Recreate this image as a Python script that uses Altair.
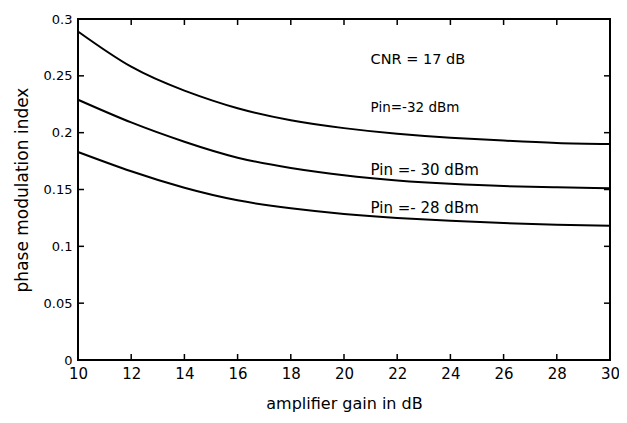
import altair as alt
import pandas as pd

gain = [10, 12, 14, 16, 18, 20, 22, 24, 26, 28, 30]
pin_m32 = [0.289, 0.258, 0.237, 0.2215, 0.211, 0.204, 0.199, 0.1955, 0.193, 0.191, 0.190]
pin_m30 = [0.229, 0.209, 0.192, 0.178, 0.169, 0.1625, 0.158, 0.155, 0.153, 0.152, 0.151]
pin_m28 = [0.183, 0.166, 0.1515, 0.1405, 0.1335, 0.1285, 0.125, 0.1225, 0.1205, 0.119, 0.118]

x_ticks = [10, 12, 14, 16, 18, 20, 22, 24, 26, 28, 30]
y_ticks = [0, 0.05, 0.1, 0.15, 0.2, 0.25, 0.3]

ann_text = ["CNR = 17 dB", "Pin=-32 dBm", "Pin =- 30 dBm", "Pin =- 28 dBm"]
ann_x = [21.0, 21.0, 21.0, 21.0]
ann_y = [0.264, 0.222, 0.167, 0.134]
ann_size = [14.5, 13.5, 15, 15]

W, H = 532, 341
FONT = "DejaVu Sans"

rows = []
for name, vals in [("-32", pin_m32), ("-30", pin_m30), ("-28", pin_m28)]:
    for g, v in zip(gain, vals):
        rows.append({"gain": g, "index": v, "series": name})
df = pd.DataFrame(rows)

label_expr = "datum.value == 0 ? '0' : format(datum.value, '.2~f')"

xscale = alt.Scale(domain=[10, 30], nice=False, zero=False)
yscale = alt.Scale(domain=[0, 0.3], nice=False)

xaxis = alt.Axis(values=x_ticks, title="amplifier gain in dB", grid=False, domain=False,
                 tickSize=0, labelPadding=6, labelFont=FONT, labelFontSize=15,
                 labelColor="black", titleFont=FONT, titleFontSize=16,
                 titleFontWeight="normal", titleColor="black", titlePadding=14,
                 labelFlush=False)
yaxis = alt.Axis(values=y_ticks, title="phase modulation index", grid=False, domain=False,
                 tickSize=0, labelPadding=6, labelFont=FONT, labelFontSize=13,
                 labelColor="black", titleFont=FONT, titleFontSize=17,
                 titleFontWeight="normal", titleColor="black", titlePadding=12,
                 labelExpr=label_expr, labelFlush=False)

lines = alt.Chart(df).mark_line(color="black", strokeWidth=2, interpolate="natural").encode(
    x=alt.X("gain:Q", scale=xscale, axis=xaxis),
    y=alt.Y("index:Q", scale=yscale, axis=yaxis),
    detail="series:N",
)

xt = pd.DataFrame({"t": x_ticks[1:-1]})
yt = pd.DataFrame({"t": y_ticks[1:-1]})

xt_bottom = alt.Chart(xt).mark_rule(color="black", strokeWidth=1.5).encode(
    x=alt.X("t:Q", scale=xscale), y=alt.value(H), y2=alt.value(H - 6))
xt_top = alt.Chart(xt).mark_rule(color="black", strokeWidth=1.5).encode(
    x=alt.X("t:Q", scale=xscale), y=alt.value(0), y2=alt.value(6))
yt_left = alt.Chart(yt).mark_rule(color="black", strokeWidth=1.5).encode(
    y=alt.Y("t:Q", scale=yscale), x=alt.value(0), x2=alt.value(6))
yt_right = alt.Chart(yt).mark_rule(color="black", strokeWidth=1.5).encode(
    y=alt.Y("t:Q", scale=yscale), x=alt.value(W), x2=alt.value(W - 6))

text_layers = []
for t, ax, ay, s in zip(ann_text, ann_x, ann_y, ann_size):
    d = pd.DataFrame({"text": [t], "x": [ax], "y": [ay]})
    text_layers.append(
        alt.Chart(d).mark_text(align="left", baseline="middle", font=FONT,
                               color="black", fontSize=s).encode(
            x=alt.X("x:Q", scale=xscale),
            y=alt.Y("y:Q", scale=yscale),
            text="text:N",
        )
    )

chart = alt.layer(lines, xt_bottom, xt_top, yt_left, yt_right, *text_layers).properties(
    width=W, height=H,
    autosize=alt.AutoSizeParams(type="none"),
    padding={"left": 70, "top": 11, "right": 9, "bottom": 55},
    background="white",
).configure_view(stroke="black", strokeWidth=2)

chart.save("out.html", embed_options={"renderer": "svg", "actions": False})
